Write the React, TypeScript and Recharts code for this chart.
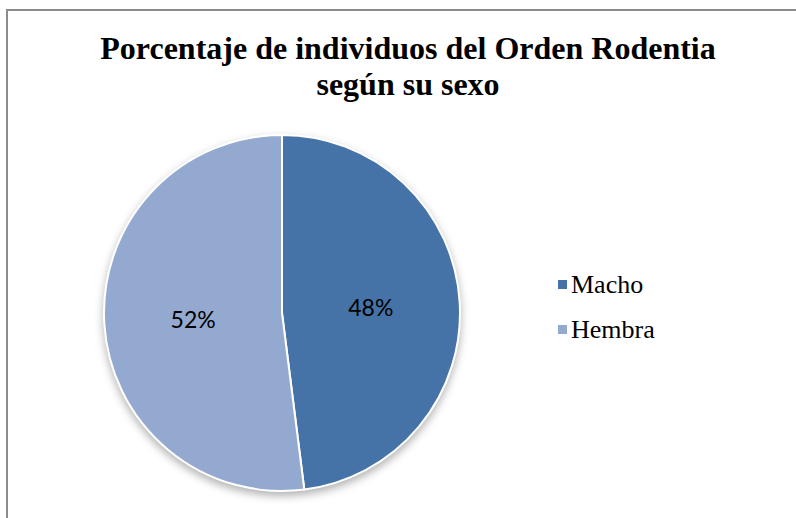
import { PieChart, Pie, Cell, Legend } from "recharts";

const categories = ["Macho", "Hembra"];
const values = [48, 52];
const colors = ["#4573A7", "#94A9CF"];

const data = categories.map((name, i) => ({ name, value: values[i] }));

const RADIAN = Math.PI / 180;

function renderLabel(props: any) {
  const { cx, cy, midAngle, outerRadius, percent } = props;
  const r = outerRadius * 0.5;
  const x = cx + r * Math.cos(-midAngle * RADIAN);
  const y = cy + r * Math.sin(-midAngle * RADIAN);
  return (
    <text
      x={x}
      y={y}
      fill="#000"
      textAnchor="middle"
      dominantBaseline="central"
      fontFamily="Lato, sans-serif"
      fontSize={23}
    >
      {`${Math.round(percent * 100)}%`}
    </text>
  );
}

function renderLegend() {
  return (
    <div style={{ fontFamily: "'Liberation Serif', 'Times New Roman', serif", fontSize: 26, color: "#000" }}>
      {data.map((d, i) => (
        <div key={d.name} style={{ display: "flex", alignItems: "center", height: 45 }}>
          <span style={{ width: 9, height: 9, background: colors[i], marginRight: 4, display: "inline-block" }} />
          <span>{d.name}</span>
        </div>
      ))}
    </div>
  );
}

export default function App() {
  return (
    <div style={{ position: "absolute", left: 0, top: 0, width: 796, height: 518, overflow: "hidden", background: "#fff" }}>
      <style>{`.recharts-pie { filter: drop-shadow(0px 4px 4px rgba(0,0,0,0.3)); }`}</style>
      <div
        style={{
          position: "absolute",
          left: 6,
          top: 9,
          width: 810,
          height: 530,
          border: "2px solid #8c8c8c",
        }}
      />
      <div
        style={{
          position: "absolute",
          left: 0,
          top: 30,
          width: 816,
          textAlign: "center",
          fontFamily: "'Liberation Serif', 'Times New Roman', serif",
          fontWeight: "bold",
          fontSize: 32,
          lineHeight: "36px",
          color: "#000",
        }}
      >
        Porcentaje de individuos del Orden Rodentia
        <br />
        según su sexo
      </div>
      <PieChart
        width={796}
        height={518}
        margin={{ top: 0, right: 0, bottom: 0, left: 0 }}
        style={{ position: "absolute", left: 0, top: 0 }}
      >
        <Pie
          data={data}
          dataKey="value"
          nameKey="name"
          cx={282}
          cy={313}
          outerRadius={178}
          startAngle={90}
          endAngle={-270}
          stroke="#fff"
          strokeWidth={2}
          label={renderLabel}
          labelLine={false}
          isAnimationActive={false}
        >
          {data.map((d, i) => (
            <Cell key={d.name} fill={colors[i]} />
          ))}
        </Pie>
        <Legend
          layout="vertical"
          content={renderLegend}
          wrapperStyle={{ position: "absolute", left: 558, top: 262, width: 150 }}
        />
      </PieChart>
    </div>
  );
}
